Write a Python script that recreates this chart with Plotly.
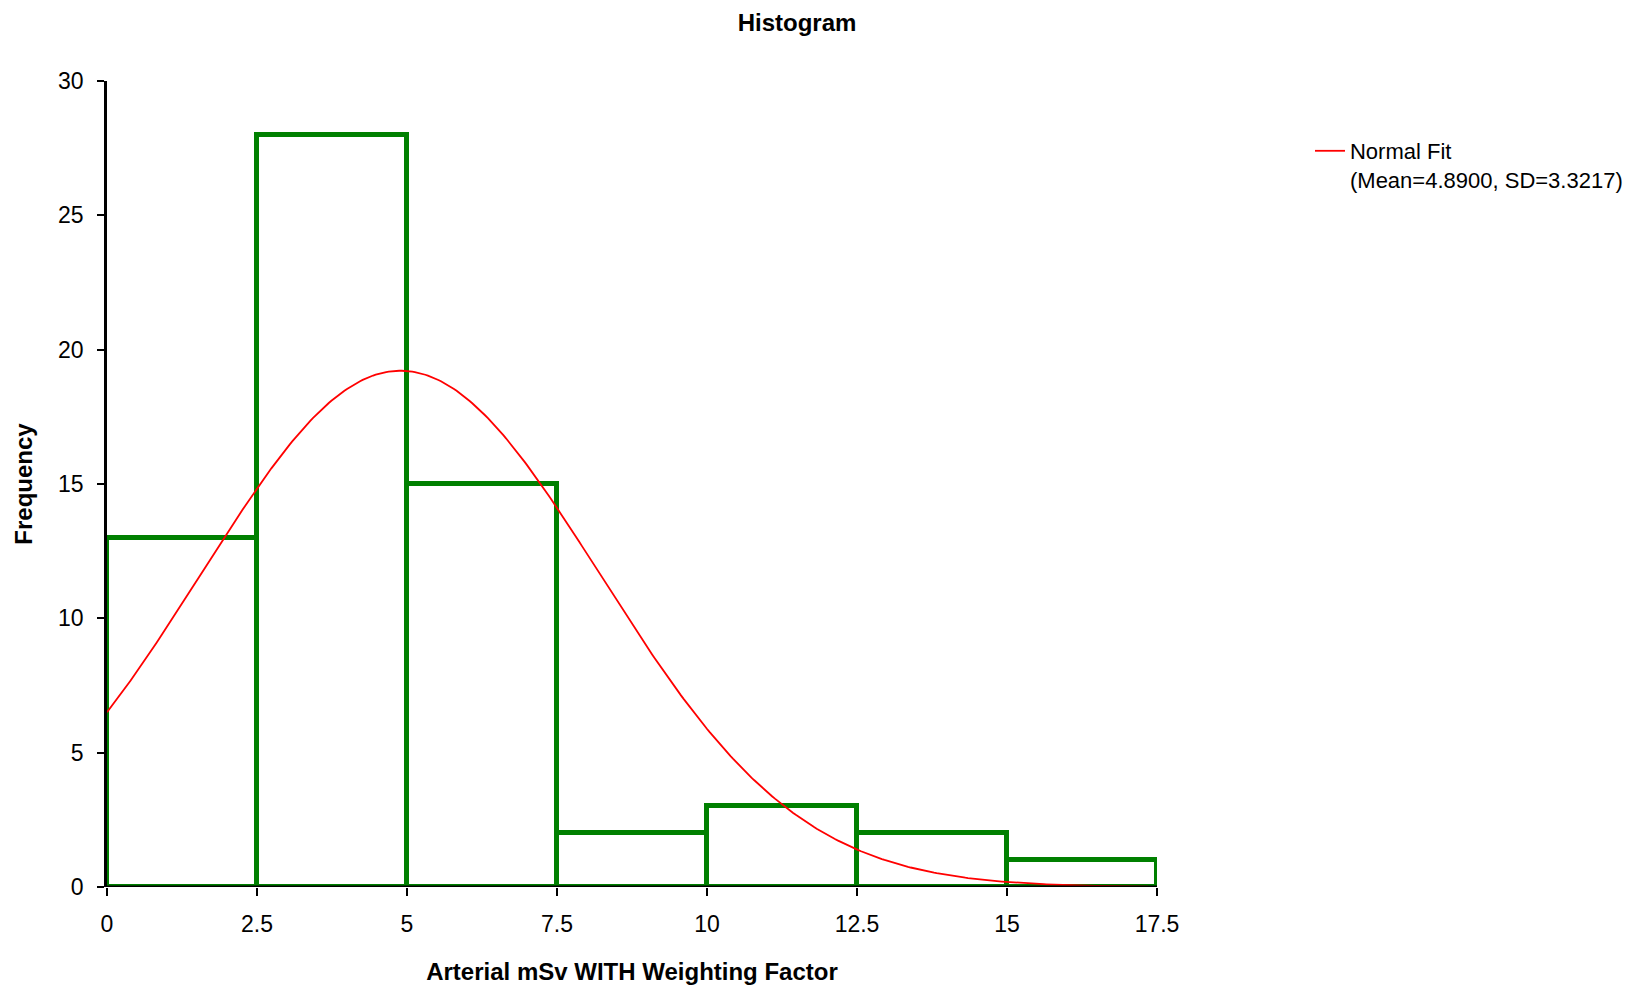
import numpy as np
import plotly.graph_objects as go

# Data
bin_edges = [0, 2.5, 5, 7.5, 10, 12.5, 15, 17.5]
counts = [13, 28, 15, 2, 3, 2, 1]
fit_mean = 4.89
fit_sd = 3.3217
fit_x_min = 0.0
fit_x_max = 17.35
x_ticks = [0, 2.5, 5, 7.5, 10, 12.5, 15, 17.5]
x_tick_text = ["0", "2.5", "5", "7.5", "10", "12.5", "15", "17.5"]
y_ticks = [0, 5, 10, 15, 20, 25, 30]

centers = [(a + b) / 2 for a, b in zip(bin_edges[:-1], bin_edges[1:])]
widths = [b - a for a, b in zip(bin_edges[:-1], bin_edges[1:])]
n_total = sum(counts)
bw = widths[0]

fx = np.linspace(fit_x_min, fit_x_max, 400)
fy = n_total * bw / (fit_sd * np.sqrt(2 * np.pi)) * np.exp(-0.5 * ((fx - fit_mean) / fit_sd) ** 2)

font = "Arial, Liberation Sans, sans-serif"

# page body has an 8px default margin, so offsets are reduced by 8px
L, T, PW, PH = 99, 73, 1050, 806
W, H = 1632, 987

fig = go.Figure()
fig.add_trace(go.Bar(
    x=centers, y=counts, width=widths,
    marker=dict(color="rgba(0,0,0,0)", line=dict(color="#008000", width=5)),
    showlegend=False, hoverinfo="skip",
))
fig.add_trace(go.Scatter(
    x=fx, y=fy, mode="lines",
    line=dict(color="#ff0000", width=1.8),
    name="Normal Fit<br>(Mean=4.8900, SD=3.3217)",
))

# black baseline drawn over the bars' bottom edges
fig.add_shape(type="line", xref="paper", yref="y", x0=0, x1=1, y0=0, y1=0,
              line=dict(color="black", width=3), layer="above")

fig.update_layout(
    width=W, height=H,
    paper_bgcolor="white", plot_bgcolor="white",
    margin=dict(l=L, r=W - L - PW, t=T, b=H - T - PH),
    bargap=0,
    font=dict(family=font, size=22, color="black"),
    title=dict(text="<b>Histogram</b>", x=789 / W, xanchor="center",
               y=1 - 15 / H, yanchor="middle",
               font=dict(size=24, family=font)),
    legend=dict(x=1.1457, y=1 - 49 / PH, xanchor="left", yanchor="top",
                font=dict(size=22, family=font), bgcolor="rgba(0,0,0,0)",
                valign="top", tracegroupgap=0),
    showlegend=True,
)
fig.update_xaxes(
    range=[0, 17.5], tickvals=x_ticks, ticktext=x_tick_text,
    showgrid=False, zeroline=False, showline=False,
    ticks="outside", ticklen=8, tickwidth=2, tickcolor="black",
    ticklabelstandoff=8, tickfont=dict(size=23),
    title=dict(text="<b>Arterial mSv WITH Weighting Factor</b>", font=dict(size=24), standoff=27),
)
fig.update_yaxes(
    range=[0, 30], tickvals=y_ticks,
    showgrid=False, zeroline=False, showline=True, linecolor="black", linewidth=2.5,
    ticks="outside", ticklen=7, tickwidth=2, tickcolor="black", layer="above traces",
    ticklabelstandoff=9, tickfont=dict(size=23),
    title=dict(text="<b>Frequency</b>", font=dict(size=24), standoff=19),
)

fig.write_html("out.html", config={"displayModeBar": False})
